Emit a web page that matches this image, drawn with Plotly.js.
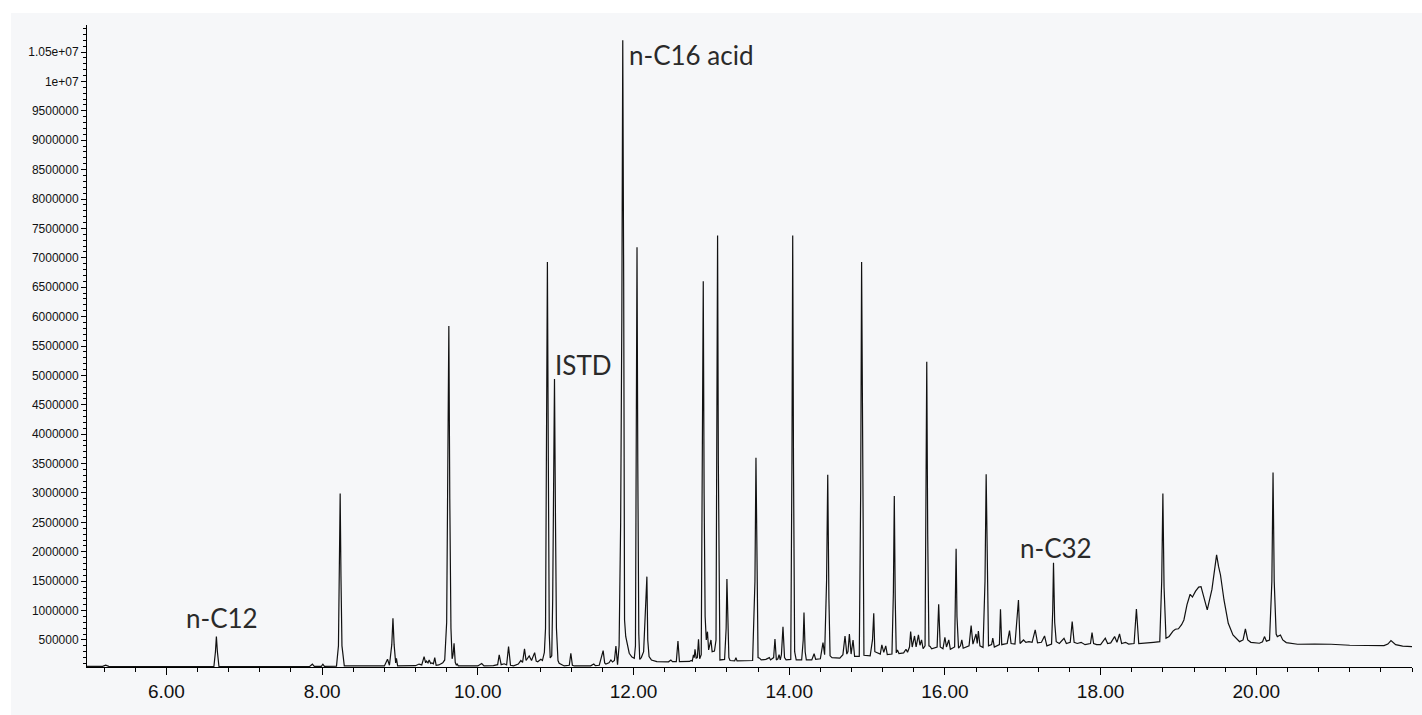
<!DOCTYPE html>
<html>
<head>
<meta charset="utf-8">
<script src="https://cdn.plot.ly/plotly-3.0.1.min.js"></script>
<style>
  html, body { margin: 0; padding: 0; background: #ffffff; width: 1422px; height: 715px; overflow: hidden; }
  #wrap { position: absolute; left: 11px; top: 13px; width: 1411px; height: 702px; background: #f6f7f9; }
  #chart { width: 1411px; height: 702px; }
</style>
</head>
<body>
<div id="wrap"><div id="chart"></div></div>
<script>
// Retention time (min) and abundance, segment by segment
const rtA = [4.98, 5.18, 5.22, 5.26, 5.8, 6.3, 6.61, 6.63, 6.642, 6.655, 6.675, 7.2, 7.84, 7.875, 7.9, 7.99, 8.01, 8.03,
  8.185, 8.21, 8.222, 8.232, 8.242, 8.255, 8.285, 8.8, 8.84, 8.865, 8.895, 8.91, 8.925, 8.945, 8.955, 8.97];
const abA = [50000, 50000, 72000, 50000, 48000, 47000, 48000, 300000, 556000, 300000, 48000, 47000, 50000, 88000, 52000, 52000, 88000, 52000,
  55000, 400000, 1600000, 2990000, 1600000, 400000, 60000, 58000, 172000, 70000, 420000, 869000, 420000, 110000, 189000, 60000];

const rtB = [9.2, 9.245, 9.28, 9.31, 9.33, 9.34, 9.36, 9.375, 9.395, 9.41, 9.43, 9.447, 9.465, 9.5, 9.55, 9.575, 9.6, 9.615, 9.628, 9.64, 9.655, 9.67, 9.682, 9.695, 9.71, 9.725, 9.735, 9.75,
  10.0, 10.05, 10.08, 10.2, 10.255, 10.275, 10.3, 10.34, 10.37, 10.395, 10.42, 10.46, 10.52, 10.553, 10.575, 10.6, 10.62, 10.66, 10.69, 10.73, 10.75, 10.77, 10.81, 10.83, 10.855,
  10.87, 10.882, 10.894, 10.906, 10.918, 10.93, 10.95, 10.962, 10.972, 10.985, 10.998, 11.01, 11.03, 11.045, 11.11];
const abB = [62000, 90000, 75000, 216000, 110000, 140000, 110000, 160000, 100000, 110000, 95000, 200000, 70000, 75000, 110000, 160000, 800000, 2900000, 5840000, 2900000, 700000, 180000, 250000, 444000, 120000, 70000, 90000, 58000,
  58000, 100000, 60000, 65000, 80000, 245000, 80000, 95000, 75000, 386000, 70000, 60000, 90000, 150000, 120000, 347000, 150000, 228000, 150000, 285000, 140000, 130000, 170000, 150000, 290000,
  700000, 3500000, 6930000, 3500000, 600000, 194000, 230000, 1200000, 2500000, 4940000, 2500000, 700000, 150000, 104000, 58000];

const rtC = [11.175, 11.195, 11.215, 11.24, 11.45, 11.49, 11.51, 11.56, 11.61, 11.63, 11.645, 11.685, 11.71, 11.73, 11.755, 11.774, 11.795,
  11.815, 11.835, 11.85, 11.862, 11.874, 11.878, 11.885, 11.9, 11.92, 11.945, 11.98, 12.01, 12.025, 12.035, 12.045, 12.055, 12.068, 12.08, 12.1, 12.13, 12.15, 12.16, 12.172, 12.183, 12.2, 12.23,
  12.3, 12.45, 12.48, 12.5, 12.55, 12.571, 12.59, 12.72, 12.74, 12.755, 12.77, 12.78, 12.79, 12.805, 12.82, 12.835, 12.85, 12.87, 12.885, 12.896, 12.907, 12.92, 12.935, 12.95, 12.965, 12.98, 12.995, 13.01,
  13.04, 13.06, 13.07, 13.08, 13.09, 13.1, 13.11, 13.17, 13.19, 13.2, 13.21, 13.225, 13.24, 13.3, 13.316, 13.33];
const abC = [70000, 274000, 70000, 58000, 60000, 90000, 62000, 70000, 318000, 110000, 90000, 110000, 160000, 125000, 150000, 398000, 80000,
  400000, 2500000, 6000000, 10700000, 6500000, 2000000, 840000, 560000, 415000, 274000, 210000, 189000, 400000, 3500000, 7180000, 3500000, 600000, 170000, 200000, 300000, 925000, 1000000, 1577000, 500000, 216000, 160000,
  131000, 128000, 160000, 131000, 131000, 483000, 131000, 135000, 150000, 140000, 245000, 200000, 342000, 190000, 200000, 512000, 180000, 250000, 3000000, 6600000, 3000000, 900000, 500000, 641000, 330000, 400000, 500000, 301000,
  310000, 500000, 3500000, 7380000, 3500000, 400000, 160000, 170000, 700000, 1537000, 700000, 200000, 150000, 145000, 200000, 145000];

const rtD = [13.53, 13.56, 13.573, 13.586, 13.6, 13.62, 13.64, 13.7, 13.745, 13.76, 13.8, 13.817, 13.835, 13.855, 13.87, 13.885, 13.9, 13.92, 13.94, 13.96,
  14.02, 14.035, 14.045, 14.055, 14.07, 14.09, 14.16, 14.18, 14.19, 14.205, 14.22, 14.29, 14.32, 14.34, 14.4, 14.434, 14.455, 14.48, 14.495, 14.51, 14.525, 14.55,
  14.65, 14.69, 14.717, 14.74, 14.755, 14.773, 14.795, 14.82, 14.84, 14.9, 14.918, 14.93, 14.942, 14.96, 15.04, 15.07, 15.086, 15.1, 15.17, 15.19, 15.215, 15.24, 15.26,
  15.32, 15.338, 15.35, 15.362, 15.375, 15.39, 15.41, 15.47, 15.5, 15.52, 15.545, 15.56, 15.58, 15.61, 15.63, 15.66, 15.68, 15.7, 15.72, 15.745, 15.755, 15.767, 15.779, 15.795, 15.81, 15.83];
const abD = [150000, 1500000, 3600000, 1500000, 200000, 190000, 160000, 170000, 200000, 160000, 200000, 517000, 160000, 180000, 250000, 160000, 250000, 726000, 200000, 160000,
  170000, 3500000, 7380000, 3500000, 300000, 160000, 160000, 500000, 965000, 300000, 160000, 160000, 265000, 170000, 180000, 455000, 250000, 1500000, 3310000, 1200000, 230000, 200000,
  190000, 250000, 568000, 260000, 300000, 602000, 260000, 500000, 220000, 220000, 3000000, 6930000, 3000000, 240000, 230000, 500000, 954000, 300000, 260000, 415000, 290000, 400000, 250000,
  260000, 1300000, 2950000, 1200000, 280000, 330000, 270000, 280000, 342000, 290000, 380000, 641000, 380000, 568000, 380000, 585000, 410000, 500000, 350000, 400000, 2500000, 5230000, 2300000, 400000, 390000, 350000];

const rtE = [15.9, 15.92, 15.94, 15.975, 16.0, 16.02, 16.05, 16.07, 16.125, 16.134, 16.144, 16.155, 16.175, 16.2, 16.217, 16.235, 16.31, 16.337, 16.36, 16.4, 16.415, 16.43, 16.45,
  16.49, 16.515, 16.53, 16.545, 16.56, 16.6, 16.615, 16.635, 16.7, 16.714, 16.73, 16.76, 16.8, 16.83, 16.85, 16.9, 16.945, 16.965, 17.01, 17.04, 17.08, 17.12, 17.16, 17.19, 17.24, 17.28, 17.31,
  17.37, 17.385, 17.395, 17.41, 17.43, 17.47, 17.53, 17.56, 17.61, 17.635, 17.66, 17.7, 17.75, 17.8, 17.87, 17.89, 17.91, 17.95, 18.0, 18.06, 18.09, 18.13, 18.18, 18.21, 18.243, 18.27, 18.32, 18.36,
  18.43, 18.46, 18.49, 18.6, 18.68, 18.76];
const abE = [380000, 1107000, 380000, 350000, 546000, 380000, 500000, 340000, 380000, 1000000, 2050000, 900000, 360000, 400000, 500000, 360000, 400000, 744000, 430000, 602000, 440000, 653000, 400000,
  370000, 1500000, 3320000, 1400000, 400000, 420000, 530000, 380000, 420000, 1022000, 420000, 430000, 440000, 658000, 440000, 430000, 1180000, 440000, 500000, 460000, 470000, 460000, 670000, 450000, 460000, 568000, 400000,
  430000, 1000000, 1815000, 800000, 471000, 440000, 529000, 440000, 460000, 811000, 460000, 440000, 460000, 420000, 440000, 625000, 440000, 420000, 420000, 529000, 440000, 450000, 557000, 460000, 602000, 440000, 460000, 430000,
  440000, 1027000, 440000, 445000, 460000, 470000];

const rtF = [18.785, 18.8, 18.815, 18.84, 18.88, 18.93, 18.96, 19.0, 19.04, 19.07, 19.11, 19.15, 19.18, 19.22, 19.26, 19.29, 19.33, 19.37, 19.43, 19.46, 19.49, 19.515, 19.54, 19.585, 19.64, 19.7, 19.785,
  19.83, 19.86, 19.89, 19.93, 20.04, 20.08, 20.105, 20.13, 20.17, 20.2, 20.215, 20.23, 20.255, 20.27, 20.31, 20.34, 20.385, 20.53, 20.75, 20.96, 21.2, 21.38, 21.64, 21.69, 21.73, 21.79, 21.88, 22.0];
const abF = [1500000, 2990000, 1400000, 529000, 560000, 650000, 682000, 690000, 760000, 840000, 1100000, 1277000, 1230000, 1330000, 1400000, 1407000, 1200000, 1010000, 1360000, 1700000, 1946000, 1750000, 1605000, 1180000, 784000, 585000, 471000,
  500000, 687000, 500000, 460000, 444000, 470000, 557000, 480000, 500000, 1500000, 3350000, 1500000, 600000, 557000, 585000, 500000, 455000, 427000, 430000, 427000, 410000, 403000, 403000, 430000, 488000, 420000, 395000, 386000];

// Axis ticks
const xTickVals = [6, 8, 10, 12, 14, 16, 18, 20];
const xTickText = ["6.00", "8.00", "10.00", "12.00", "14.00", "16.00", "18.00", "20.00"];
const yTickVals = [500000, 1000000, 1500000, 2000000, 2500000, 3000000, 3500000, 4000000, 4500000, 5000000, 5500000, 6000000, 6500000, 7000000, 7500000, 8000000, 8500000, 9000000, 9500000, 10000000, 10500000];
const yTickText = ["500000", "1000000", "1500000", "2000000", "2500000", "3000000", "3500000", "4000000", "4500000", "5000000", "5500000", "6000000", "6500000", "7000000", "7500000", "8000000", "8500000", "9000000", "9500000", "1e+07", "1.05e+07"];

// Peak labels
const labelText = ["n-C12", "ISTD", "n-C16 acid", "n-C32"];
const labelRt = [6.22, 10.965, 11.915, 16.94];
const labelAb = [874000, 5180000, 10450000, 2065000];

const rt = [].concat(rtA, rtB, rtC, rtD, rtE, rtF);
const ab = [].concat(abA, abB, abC, abD, abE, abF);

const trace = {
  x: rt, y: ab, type: 'scatter', mode: 'lines',
  line: { color: '#111111', width: 1.2 },
  hoverinfo: 'x+y'
};

const annotations = labelText.map((t, i) => ({
  x: labelRt[i], y: labelAb[i], xref: 'x', yref: 'y', text: t, showarrow: false,
  xanchor: 'left', yanchor: 'middle',
  font: { family: 'Lato, "Open Sans", sans-serif', size: 26, color: '#2a2a2a' }
}));

const layout = {
  width: 1411, height: 702,
  margin: { l: 76, r: 10, t: 12, b: 48 },
  paper_bgcolor: '#f6f7f9', plot_bgcolor: '#f6f7f9',
  showlegend: false,
  xaxis: {
    range: [4.98, 22.0], tickmode: 'array', tickvals: xTickVals, ticktext: xTickText,
    showgrid: false, zeroline: false, showline: true, linecolor: '#000', linewidth: 1,
    ticks: 'outside', ticklen: 7, tickcolor: '#000', tickwidth: 1,
    minor: { dtick: 0.4, tick0: 0, ticks: 'outside', ticklen: 4, tickcolor: '#000', tickwidth: 1, showgrid: false },
    tickfont: { family: '"Liberation Sans", Arial, sans-serif', size: 19, color: '#111' }
  },
  yaxis: {
    range: [40000, 10960000], tickmode: 'array', tickvals: yTickVals, ticktext: yTickText,
    showgrid: false, zeroline: false, showline: true, linecolor: '#000', linewidth: 1,
    ticks: 'outside', ticklen: 5, tickcolor: '#000', tickwidth: 1,
    minor: { dtick: 100000, tick0: 0, ticks: 'outside', ticklen: 3, tickcolor: '#000', tickwidth: 1, showgrid: false },
    tickfont: { family: '"Liberation Sans", Arial, sans-serif', size: 12, color: '#111' }
  },
  annotations: annotations
};

Plotly.newPlot('chart', [trace], layout, { displayModeBar: false, staticPlot: true });
</script>
</body>
</html>
